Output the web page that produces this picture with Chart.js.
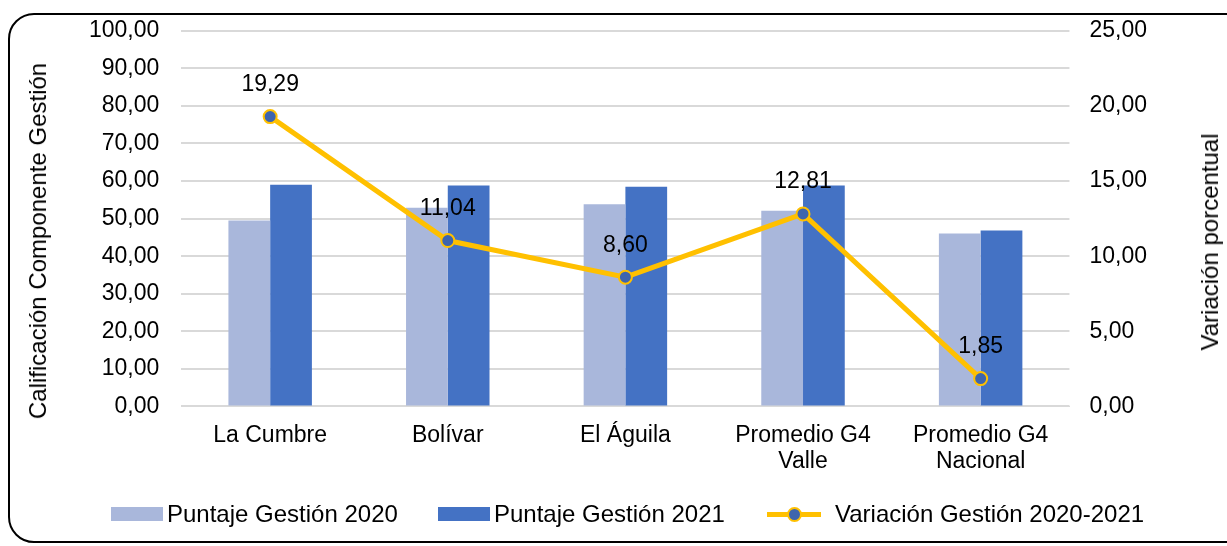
<!DOCTYPE html>
<html>
<head>
<meta charset="utf-8">
<script src="https://cdn.jsdelivr.net/npm/chart.js@4/dist/chart.umd.min.js"></script>
<style>
  html, body { margin: 0; padding: 0; background: #fff; overflow: hidden; }
  #wrap { position: relative; width: 1227px; height: 546px; overflow: hidden; font-family: "Liberation Sans", Arial, sans-serif; }
  #frame { position: absolute; left: 8px; top: 13px; width: 1300px; height: 530px; border: 2px solid #000; border-radius: 26px; box-sizing: border-box; }
  canvas { position: absolute; left: 0; top: -5px; }
  .axisTitle { position: absolute; transform: translate(-50%, -50%) rotate(-90deg); white-space: nowrap; font-size: 24px; color: #000; }
  #leftTitle { left: 38px; top: 241px; }
  #rightTitle { left: 1210px; top: 242px; }
  #legend { position: absolute; top: 501px; left: 0; width: 1227px; height: 26px; font-size: 24px; color: #000; }
  .item { position: absolute; top: 0; display: flex; align-items: center; height: 26px; }
  .box { width: 52px; height: 14px; margin-right: 4px; }
  .lineKey { position: relative; width: 54px; height: 26px; margin-right: 14px; }
  .lineKey .bar { position: absolute; left: 0; right: 0; top: 11px; height: 5px; background: #FFC000; }
  .lineKey .dot { position: absolute; left: 20px; top: 6px; width: 11px; height: 11px; border-radius: 50%; background: #3E65AE; border: 2px solid #FFC000; }
</style>
</head>
<body>
<div id="wrap">
  <div id="frame"></div>
  <canvas id="chart" width="1227" height="546"></canvas>
  <div id="leftTitle" class="axisTitle">Calificación Componente Gestión</div>
  <div id="rightTitle" class="axisTitle">Variación porcentual</div>
  <div id="legend"></div>
</div>
<script>
const categories = ["La Cumbre", "Bolívar", "El Águila", ["Promedio G4", "Valle"], ["Promedio G4", "Nacional"]];
const puntaje2020 = [49.5, 52.9, 53.8, 52.1, 46.0];
const puntaje2021 = [59.0, 58.8, 58.5, 58.8, 46.8];
const variacion = [19.29, 11.04, 8.60, 12.81, 1.85];
const seriesNames = ["Puntaje Gestión 2020", "Puntaje Gestión 2021", "Variación Gestión 2020-2021"];

const color2020 = "#A9B7DB";
const color2021 = "#4472C4";
const lineColor = "#FFC000";
const fontFamily = '"Liberation Sans", Arial, sans-serif';

const fmt = (v) => v.toFixed(2).replace(".", ",");

// value labels above the line points
const pointLabels = {
  id: "pointLabels",
  afterDatasetsDraw(chart) {
    const ctx = chart.ctx;
    const meta = chart.getDatasetMeta(0);
    ctx.save();
    ctx.font = "23px " + fontFamily;
    ctx.fillStyle = "#000";
    ctx.textAlign = "center";
    ctx.textBaseline = "middle";
    meta.data.forEach((pt, i) => {
      ctx.fillText(fmt(variacion[i]), pt.x, pt.y - 32);
    });
    ctx.restore();
  }
};

const chart = new Chart(document.getElementById("chart"), {
  type: "bar",
  data: {
    labels: categories,
    datasets: [
      { label: seriesNames[2], type: "line", data: variacion, yAxisID: "y1", order: 0,
        borderColor: lineColor, borderWidth: 5, backgroundColor: "#3E65AE",
        pointBackgroundColor: "#3E65AE", pointBorderColor: lineColor, pointBorderWidth: 2,
        pointRadius: 6.5, tension: 0 },
      { label: seriesNames[0], data: puntaje2020, backgroundColor: color2020, yAxisID: "y", order: 1,
        categoryPercentage: 0.47, barPercentage: 1 },
      { label: seriesNames[1], data: puntaje2021, backgroundColor: color2021, yAxisID: "y", order: 1,
        categoryPercentage: 0.47, barPercentage: 1 }
    ]
  },
  options: {
    responsive: false,
    animation: false,
    layout: { padding: { left: 67, right: 60, top: 8, bottom: 58 } },
    plugins: { legend: { display: false }, tooltip: { enabled: false } },
    scales: {
      x: {
        grid: { display: false },
        border: { color: "#D9D9D9" },
        ticks: { color: "#000", font: { size: 23, family: fontFamily, lineHeight: 1.1 }, padding: 9, maxRotation: 0 }
      },
      y: {
        position: "left", min: 0, max: 100,
        ticks: { stepSize: 10, color: "#000", font: { size: 23, family: fontFamily }, padding: 22, callback: (v) => fmt(v) },
        grid: { color: "#D9D9D9", lineWidth: 2, drawTicks: false },
        border: { display: false }
      },
      y1: {
        position: "right", min: 0, max: 25,
        ticks: { stepSize: 5, color: "#000", font: { size: 23, family: fontFamily }, padding: 20, callback: (v) => fmt(v) },
        grid: { display: false, drawTicks: false },
        border: { display: false }
      }
    }
  },
  plugins: [pointLabels]
});

// legend in HTML
const legend = document.getElementById("legend");
const legendX = [111, 438, 767];
legendX.forEach((x, i) => {
  const item = document.createElement("div");
  item.className = "item";
  item.style.left = x + "px";
  if (i < 2) {
    const box = document.createElement("div");
    box.className = "box";
    box.style.background = i === 0 ? color2020 : color2021;
    item.appendChild(box);
  } else {
    const key = document.createElement("div");
    key.className = "lineKey";
    key.innerHTML = '<div class="bar"></div><div class="dot"></div>';
    item.appendChild(key);
  }
  const label = document.createElement("span");
  label.textContent = seriesNames[i];
  item.appendChild(label);
  legend.appendChild(item);
});
</script>
</body>
</html>
